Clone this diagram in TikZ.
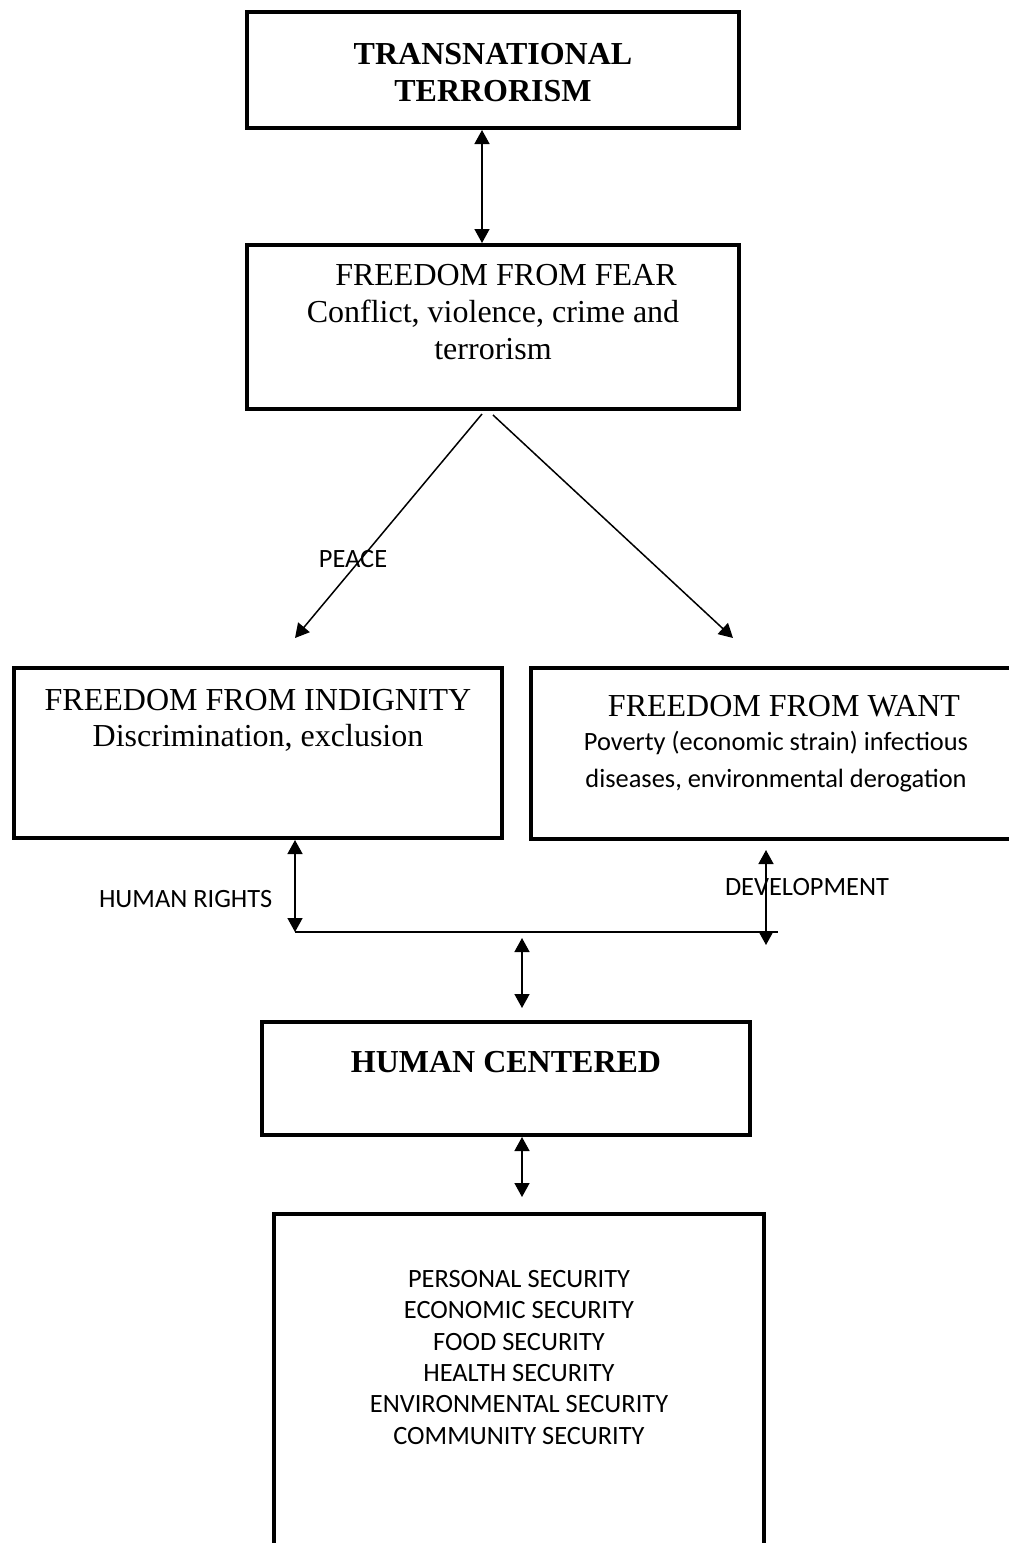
\documentclass[tikz,border=0pt]{standalone}
\usepackage{fontspec}
\setmainfont{Liberation Serif}
\newfontfamily\calibri{Carlito}
\usetikzlibrary{arrows.meta,positioning}

\newcommand{\serifbig}{\fontsize{32}{37}\selectfont}
\newcommand{\sansmid}{\calibri\fontsize{26.4}{31.3}\selectfont}

\begin{document}
\begin{tikzpicture}[
    x=1pt, y=-1pt,
    box/.style={draw, rectangle, line width=4pt, inner sep=0pt, anchor=north west, align=flush center, font=\serifbig},
    arrow/.style={-{Triangle[length=14pt,width=15pt]}, line width=1.5pt},
    both/.style={{Triangle[length=14pt,width=15pt]}-{Triangle[length=14pt,width=15pt]}, line width=1.5pt},
    lab/.style={inner sep=0pt, font=\sansmid}
]
    \useasboundingbox (0,0) rectangle (1009,1543);

    % Boxes
    \node[box, text width=492pt, text height=52pt, text depth=64pt] (terror) at (245,10) {\textbf{TRANSNATIONAL}\\\textbf{TERRORISM}};
    \node[box, text width=492pt, text height=40pt, text depth=124pt] (fear) at (245,243) {\hspace*{26pt}FREEDOM FROM FEAR\\Conflict, violence, crime and\\terrorism};
    \node[box, text width=488pt, text height=42pt, text depth=128pt] (indig) at (12,666) {FREEDOM FROM INDIGNITY\\[-1pt]Discrimination, exclusion};
    \node[box, text width=490pt, text height=48pt, text depth=123pt] (want) at (529,666) {\hspace*{16pt}FREEDOM FROM WANT\\[3pt]\sansmid Poverty (economic strain) infectious\\diseases, environmental derogation};
    \node[box, text width=488pt, text height=50pt, text depth=63pt] (centre) at (260,1020) {\textbf{HUMAN CENTERED}};
    \node[box, font=\sansmid, text width=490pt, text height=73.5pt, text depth=320pt] (secur) at (272,1212) {PERSONAL SECURITY\\ECONOMIC SECURITY\\FOOD SECURITY\\HEALTH SECURITY\\ENVIRONMENTAL SECURITY\\COMMUNITY SECURITY};

    % Free arrow ends
    \coordinate (topx) at (482,0);
    \coordinate (peaceend) at (295,638);
    \coordinate (wantend) at (733,638);
    \coordinate (jl) at (295,932);
    \coordinate (jr) at (778,932);
    \coordinate (devtop) at (766,850);
    \coordinate (devbot) at (766,945);
    \coordinate (midtop) at (522,938);
    \coordinate (midbot) at (522,1008);
    \coordinate (lowbot) at (522,1197);

    % Arrows with labels
    \draw[both] (topx |- terror.south) -- (topx |- fear.north);
    \draw[arrow] ([xshift=-11pt,yshift=-3pt]fear.south) -- (peaceend);
    \draw[arrow] ([yshift=-4pt]fear.south) -- (wantend);
    \node[lab] (peace) at (353,559) {PEACE};
    \draw[both] (jl |- indig.south) -- node[lab, pos=.64, left=22pt] (rights) {HUMAN RIGHTS} (jl);
    \draw[line width=1.5pt] (jl) -- (jr);
    \draw[both] (devtop) -- (devbot);
    \node[lab] (devel) at (807,887) {DEVELOPMENT};
    \draw[both] (midtop) -- (midbot);
    \draw[both] (lowbot |- centre.south) -- (lowbot);

\end{tikzpicture}
\end{document}
